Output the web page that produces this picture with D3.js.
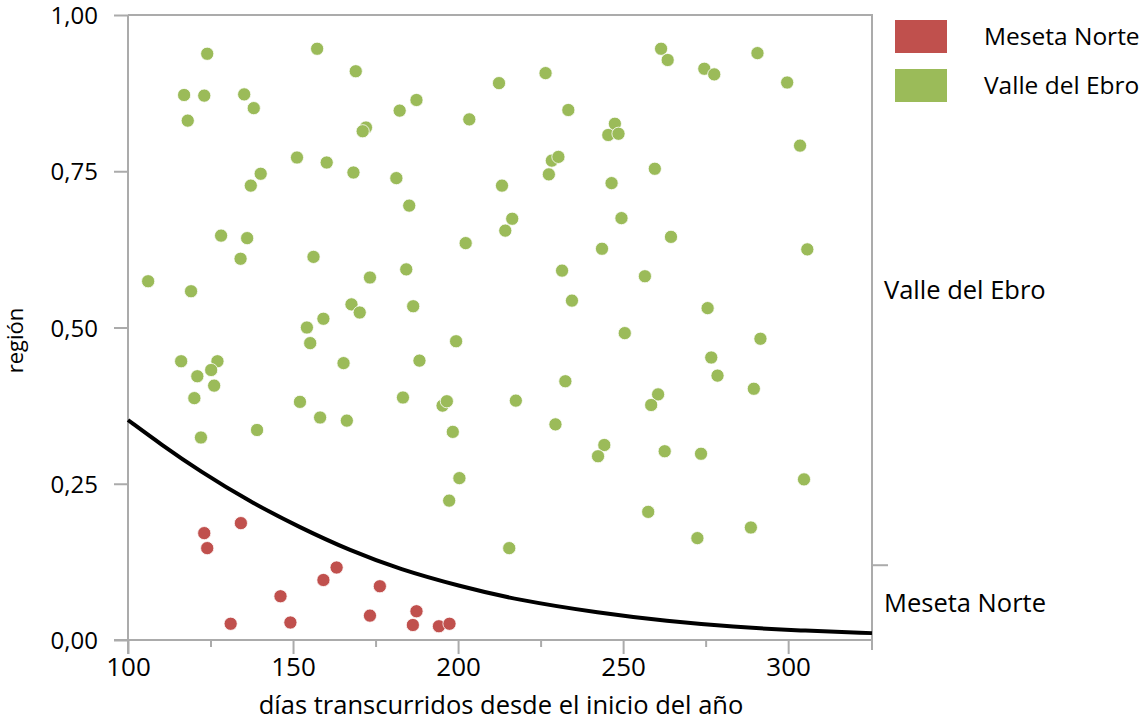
<!DOCTYPE html>
<html>
<head>
<meta charset="utf-8">
<script src="https://cdn.jsdelivr.net/npm/d3@7/dist/d3.min.js"></script>
<style>
  html, body { margin: 0; padding: 0; background: #fff; }
  svg text { font-family: "Open Sans", "Noto Sans", sans-serif; fill: #000; }
</style>
</head>
<body>
<svg id="chart" width="1144" height="724"></svg>
<script>
// Observations: day of year and jittered vertical position, per region
const mesetaDays = [123.1, 124.0, 134.2, 146.2, 131.1, 149.2, 159.2, 163.2, 176.3, 173.3, 187.4, 186.3, 194.2, 197.4];
const mesetaPos  = [0.171, 0.147, 0.187, 0.070, 0.026, 0.028, 0.096, 0.116, 0.086, 0.039, 0.046, 0.024, 0.022, 0.026];

const ebroDays = [124.0, 157.3, 169.0, 117.0, 123.1, 135.2, 138.1, 118.1, 151.2, 160.2,
  168.3, 140.2, 137.2, 212.4, 226.5, 187.4, 182.3, 203.4, 233.4, 172.1,
  171.1, 245.5, 181.3, 185.2, 213.3, 227.5, 228.4, 230.4, 216.4, 214.3,
  261.5, 263.5, 274.6, 277.6, 290.7, 299.7, 247.5, 248.6, 303.6, 259.6,
  246.5, 249.5, 128.2, 136.1, 134.1, 156.2, 106.1, 119.1, 167.7, 170.2,
  159.2, 154.2, 155.2, 165.3, 116.1, 127.1, 125.2, 121.0, 126.1, 120.1,
  152.1, 158.2, 166.3, 139.1, 122.1, 202.3, 243.6, 173.3, 184.3, 231.5,
  234.5, 186.4, 199.4, 188.3, 232.5, 183.3, 195.3, 196.6, 217.5, 198.4,
  229.5, 264.5, 305.8, 256.6, 275.6, 250.5, 291.6, 276.7, 278.6, 289.6,
  260.6, 258.5, 200.4, 197.3, 215.5, 244.3, 242.4, 262.6, 273.6, 304.8,
  257.6, 288.7, 272.5];
const ebroPos = [0.938, 0.946, 0.910, 0.872, 0.871, 0.873, 0.851, 0.831, 0.772, 0.764,
  0.748, 0.746, 0.727, 0.891, 0.907, 0.864, 0.847, 0.833, 0.848, 0.820,
  0.814, 0.808, 0.739, 0.695, 0.727, 0.745, 0.767, 0.773, 0.674, 0.655,
  0.946, 0.928, 0.914, 0.905, 0.939, 0.892, 0.826, 0.810, 0.791, 0.754,
  0.731, 0.675, 0.647, 0.643, 0.610, 0.613, 0.574, 0.558, 0.537, 0.524,
  0.514, 0.500, 0.475, 0.443, 0.446, 0.446, 0.432, 0.422, 0.407, 0.387,
  0.381, 0.356, 0.351, 0.336, 0.324, 0.635, 0.626, 0.580, 0.593, 0.591,
  0.543, 0.534, 0.478, 0.447, 0.414, 0.388, 0.375, 0.382, 0.383, 0.333,
  0.345, 0.645, 0.625, 0.582, 0.531, 0.491, 0.482, 0.452, 0.423, 0.402,
  0.393, 0.376, 0.259, 0.223, 0.147, 0.312, 0.294, 0.302, 0.298, 0.257,
  0.205, 0.180, 0.163];

// Fitted probability boundary, sampled along the day axis
const boundaryDays = [100, 110, 121.8, 137.0, 152.1, 167.3, 182.4, 200.6, 217.9, 243.0, 263.3, 283.3, 303.6, 325.4];
const boundaryProb = [0.352, 0.313, 0.270, 0.221, 0.180, 0.143, 0.113, 0.086, 0.064, 0.043, 0.030, 0.021, 0.015, 0.011];

const regionNames = ["Meseta Norte", "Valle del Ebro"];
const regionColors = ["#C0504D", "#9BBB59"];
const xMajorTicks = [100, 150, 200, 250, 300];
const xMinorTicks = [125, 175, 225, 275];
const yTicks = [0, 0.25, 0.5, 0.75, 1];

const svg = d3.select("#chart");
const plotLeft = 128, plotRight = 872, plotTop = 15, plotBottom = 640;
const axisColor = "#ABABAB";

const x = d3.scaleLinear().domain([100, 325.4]).range([plotLeft, plotRight]);
const y = d3.scaleLinear().domain([0, 1]).range([plotBottom, plotTop]);

const locale = d3.formatLocale({ decimal: ",", thousands: ".", grouping: [3], currency: ["", " €"] });
const fmtY = locale.format(".2f");

// Frame: top border and right axis line
svg.append("line").attr("x1", plotLeft).attr("x2", plotRight).attr("y1", plotTop).attr("y2", plotTop)
  .attr("stroke", axisColor).attr("stroke-width", 2);
svg.append("line").attr("x1", plotRight).attr("x2", plotRight).attr("y1", plotTop - 1).attr("y2", plotBottom + 10)
  .attr("stroke", axisColor).attr("stroke-width", 2);

// Left axis
const gy = svg.append("g").attr("transform", `translate(${plotLeft},0)`)
  .call(d3.axisLeft(y).tickValues(yTicks).tickFormat(fmtY).tickSize(14).tickPadding(16));
gy.select(".domain").attr("stroke", axisColor).attr("stroke-width", 2).attr("d", `M0,${plotTop}V${plotBottom + 14}`);
gy.selectAll(".tick line").attr("stroke", axisColor).attr("stroke-width", 2);
gy.selectAll(".tick text").attr("font-size", 24).attr("font-family", "Open Sans").attr("fill", "#000")
  .attr("dy", "0.36em");

// Bottom axis: major and minor ticks
const gx = svg.append("g").attr("transform", `translate(0,${plotBottom})`)
  .call(d3.axisBottom(x).tickValues(xMajorTicks).tickFormat(d3.format("d")).tickSize(14).tickPadding(4));
gx.select(".domain").attr("stroke", axisColor).attr("stroke-width", 2).attr("d", `M${plotLeft - 14},0H${plotRight}`);
gx.selectAll(".tick line").attr("stroke", axisColor).attr("stroke-width", 2);
gx.selectAll(".tick text").attr("font-size", 26).attr("font-family", "Open Sans").attr("fill", "#000");

const gxm = svg.append("g").attr("transform", `translate(0,${plotBottom})`)
  .call(d3.axisBottom(x).tickValues(xMinorTicks).tickFormat("").tickSize(7));
gxm.select(".domain").remove();
gxm.selectAll(".tick line").attr("stroke", axisColor).attr("stroke-width", 2);

// Right axis: region bands split by their share of observations
const share = mesetaDays.length / (mesetaDays.length + ebroDays.length);
const bands = [[0, share], [share, 1]];
svg.append("line").attr("x1", plotRight).attr("x2", plotRight + 16)
  .attr("y1", y(share)).attr("y2", y(share))
  .attr("stroke", axisColor).attr("stroke-width", 2);
svg.selectAll("text.band").data(regionNames).join("text")
  .attr("class", "band")
  .attr("x", plotRight + 12)
  .attr("y", (d, i) => y((bands[i][0] + bands[i][1]) / 2))
  .attr("dy", "0.35em")
  .attr("font-size", 25.5)
  .text(d => d);

// Axis titles
svg.append("text").attr("x", (plotLeft + plotRight) / 2 + 1).attr("y", 714)
  .attr("text-anchor", "middle").attr("font-size", 25.5)
  .text("días transcurridos desde el inicio del año");
svg.append("text")
  .attr("transform", `translate(23,${(plotTop + plotBottom) / 2 + 13}) rotate(-90)`)
  .attr("text-anchor", "middle").attr("font-size", 22)
  .text("región");

// Points
const series = [
  { days: mesetaDays, pos: mesetaPos, color: regionColors[0] },
  { days: ebroDays, pos: ebroPos, color: regionColors[1] }
];
series.forEach(s => {
  svg.append("g").selectAll("circle").data(s.days.map((d, i) => [d, s.pos[i]])).join("circle")
    .attr("cx", d => x(d[0]))
    .attr("cy", d => y(d[1]))
    .attr("r", 6.6)
    .attr("fill", s.color)
    .attr("stroke", "#fff")
    .attr("stroke-width", 0.8);
});

// Boundary curve
const curve = d3.line().x(d => x(d[0])).y(d => y(d[1])).curve(d3.curveBasis);
svg.append("path")
  .datum(boundaryDays.map((d, i) => [d, boundaryProb[i]]))
  .attr("d", curve)
  .attr("fill", "none")
  .attr("stroke", "#000")
  .attr("stroke-width", 4);

// Legend
const legend = svg.append("g");
regionNames.forEach((name, i) => {
  legend.append("rect").attr("x", 895).attr("y", 20 + i * 49).attr("width", 52).attr("height", 33)
    .attr("fill", regionColors[i]);
  legend.append("text").attr("x", 984).attr("y", 36.5 + i * 49).attr("dy", "0.35em")
    .attr("font-size", 24.5).text(name);
});
</script>
</body>
</html>
